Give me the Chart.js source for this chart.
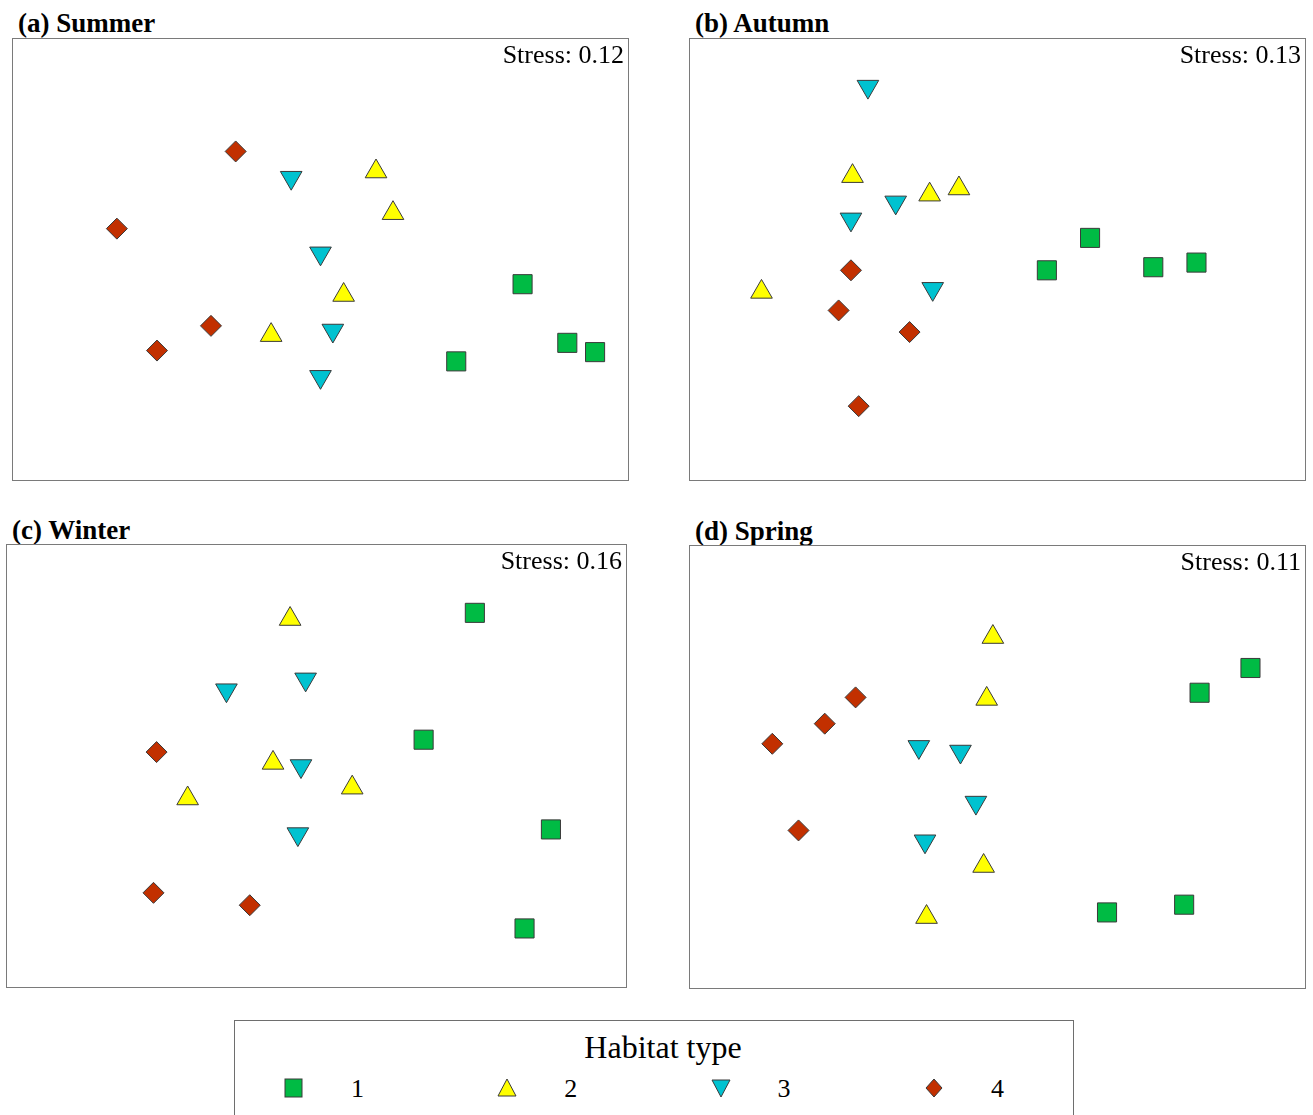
<!DOCTYPE html>
<html>
<head>
<meta charset="utf-8">
<script src="https://cdn.jsdelivr.net/npm/chart.js@4"></script>
<style>
  body { margin: 0; background: #fff; }
  #page { position: relative; width: 1313px; height: 1115px; overflow: hidden; background: #fff; font-family: 'Liberation Serif', 'Times New Roman', serif; }
  .title { position: absolute; font-weight: bold; font-size: 27px; line-height: 27px; white-space: nowrap; }
  canvas { position: absolute; }
  #legend { position: absolute; left: 234px; top: 1020px; width: 838px; height: 120px; border: 1px solid #6e6e6e; }
  .legtext { position: absolute; white-space: nowrap; line-height: 1; }
  .legmark { position: absolute; }
</style>
</head>
<body>
<div id="page">
  <div class="title" style="left:18px; top:10px;">(a) Summer</div>
  <div class="title" style="left:695px; top:10px;">(b) Autumn</div>
  <div class="title" style="left:12px; top:517px;">(c) Winter</div>
  <div class="title" style="left:695px; top:518px;">(d) Spring</div>

  <canvas id="summer" width="617" height="443" style="left:12px; top:38px;"></canvas>
  <canvas id="autumn" width="617" height="443" style="left:689px; top:38px;"></canvas>
  <canvas id="winter" width="621" height="444" style="left:6px; top:544px;"></canvas>
  <canvas id="spring" width="617" height="444" style="left:689px; top:545px;"></canvas>

  <div id="legend"></div>
</div>

<script>
// NMDS ordination scores per season, one list per habitat type
const habitatTypes = ['1', '2', '3', '4'];
const stressValues = [0.12, 0.13, 0.16, 0.11];

const summerHab1 = [[1.31, -0.16], [1.60, -0.54], [1.78, -0.60], [0.88, -0.66]];
const summerHab2 = [[0.36, 0.57], [0.47, 0.30], [0.15, -0.23], [-0.32, -0.49]];
const summerHab3 = [[-0.19, 0.53], [0.00, 0.04], [0.08, -0.46], [0.00, -0.76]];
const summerHab4 = [[-0.55, 0.70], [-1.32, 0.20], [-0.71, -0.43], [-1.06, -0.59]];

const autumnHab1 = [[0.60, 0.14], [0.32, -0.07], [1.01, -0.05], [1.29, -0.02]];
const autumnHab2 = [[-0.94, 0.54], [-0.44, 0.42], [-0.25, 0.46], [-1.53, -0.21]];
const autumnHab3 = [[-0.84, 1.12], [-0.66, 0.37], [-0.95, 0.26], [-0.42, -0.19]];
const autumnHab4 = [[-0.95, -0.07], [-1.03, -0.33], [-0.57, -0.47], [-0.90, -0.95]];

const winterHab1 = [[1.02, 0.99], [0.69, 0.17], [1.51, -0.41], [1.34, -1.05]];
const winterHab2 = [[-0.17, 0.95], [-0.28, 0.02], [-0.83, -0.21], [0.23, -0.14]];
const winterHab3 = [[-0.58, 0.49], [-0.07, 0.56], [-0.10, 0.00], [-0.12, -0.44]];
const winterHab4 = [[-1.03, 0.09], [-1.05, -0.82], [-0.43, -0.90]];

const springHab1 = [[1.64, 0.64], [1.31, 0.48], [1.21, -0.89], [0.71, -0.94]];
const springHab2 = [[-0.03, 0.84], [-0.07, 0.44], [-0.09, -0.64], [-0.46, -0.97]];
const springHab3 = [[-0.51, 0.13], [-0.24, 0.10], [-0.14, -0.23], [-0.47, -0.48]];
const springHab4 = [[-0.92, 0.45], [-1.12, 0.28], [-1.46, 0.15], [-1.29, -0.41]];

const fills = ['#00bb44', '#ffff00', '#00c2d0', '#c23000'];
const shapes = ['rect', 'triangle', 'triangle', 'rectRot'];
const rotations = [0, 0, 180, 0];
const radii = [13.5, 12.5, 12.5, 10.5];

const boxPlugin = {
  id: 'boxPlugin',
  afterDraw(chart, args, opts) {
    const ctx = chart.ctx;
    const w = chart.width, h = chart.height;
    ctx.save();
    ctx.strokeStyle = '#7a7a7a';
    ctx.lineWidth = 1;
    ctx.strokeRect(0.5, 0.5, w - 1, h - 1);
    ctx.fillStyle = '#000';
    ctx.font = '26px "Liberation Serif", serif';
    ctx.textAlign = 'right';
    ctx.textBaseline = 'alphabetic';
    ctx.fillText('Stress: ' + opts.stress.toFixed(2), w - 5, 25);
    ctx.restore();
  }
};

function makeChart(id, groups, stress) {
  const datasets = groups.map((pts, i) => ({
    label: habitatTypes[i],
    data: pts.map(p => ({ x: p[0], y: p[1] })),
    pointStyle: shapes[i],
    rotation: rotations[i],
    pointRadius: radii[i],
    pointHoverRadius: radii[i],
    backgroundColor: fills[i],
    borderColor: '#3a3a3a',
    borderWidth: 1,
    clip: false
  }));
  new Chart(document.getElementById(id), {
    type: 'scatter',
    data: { datasets },
    options: {
      responsive: false,
      animation: false,
      events: [],
      layout: { padding: 0, autoPadding: false },
      scales: {
        x: { display: false, min: -2, max: 2 },
        y: { display: false, min: -1.435, max: 1.435 }
      },
      plugins: {
        legend: { display: false },
        tooltip: { enabled: false },
        boxPlugin: { stress }
      }
    },
    plugins: [boxPlugin]
  });
}

makeChart('summer', [summerHab1, summerHab2, summerHab3, summerHab4], stressValues[0]);
makeChart('autumn', [autumnHab1, autumnHab2, autumnHab3, autumnHab4], stressValues[1]);
makeChart('winter', [winterHab1, winterHab2, winterHab3, winterHab4], stressValues[2]);
makeChart('spring', [springHab1, springHab2, springHab3, springHab4], stressValues[3]);

// legend
const legend = document.getElementById('legend');
const head = document.createElement('div');
head.className = 'legtext';
head.style.cssText = 'left:0; width:856px; text-align:center; top:10px; font-size:32px;';
head.textContent = 'Habitat type';
legend.appendChild(head);

const markSvg = [
  '<rect x="1" y="1" width="17" height="18" fill="#00bb44" stroke="#3a3a3a" stroke-width="1"/>',
  '<polygon points="10,1 19,18 1,18" fill="#ffff00" stroke="#3a3a3a" stroke-width="1"/>',
  '<polygon points="1,2 19,2 10,19" fill="#00c2d0" stroke="#3a3a3a" stroke-width="1"/>',
  '<polygon points="10,1 18,10 10,19 2,10" fill="#c23000" stroke="#3a3a3a" stroke-width="1"/>'
];
habitatTypes.forEach((t, i) => {
  const cx = 59 + i * 213.3;
  const m = document.createElement('div');
  m.className = 'legmark';
  m.style.left = (cx - 10) + 'px';
  m.style.top = '57px';
  m.innerHTML = '<svg width="20" height="20">' + markSvg[i] + '</svg>';
  legend.appendChild(m);
  const lab = document.createElement('div');
  lab.className = 'legtext';
  lab.style.cssText = 'top:55px; font-size:26px; left:' + (cx + 57) + 'px;';
  lab.textContent = t;
  legend.appendChild(lab);
});
</script>
</body>
</html>
